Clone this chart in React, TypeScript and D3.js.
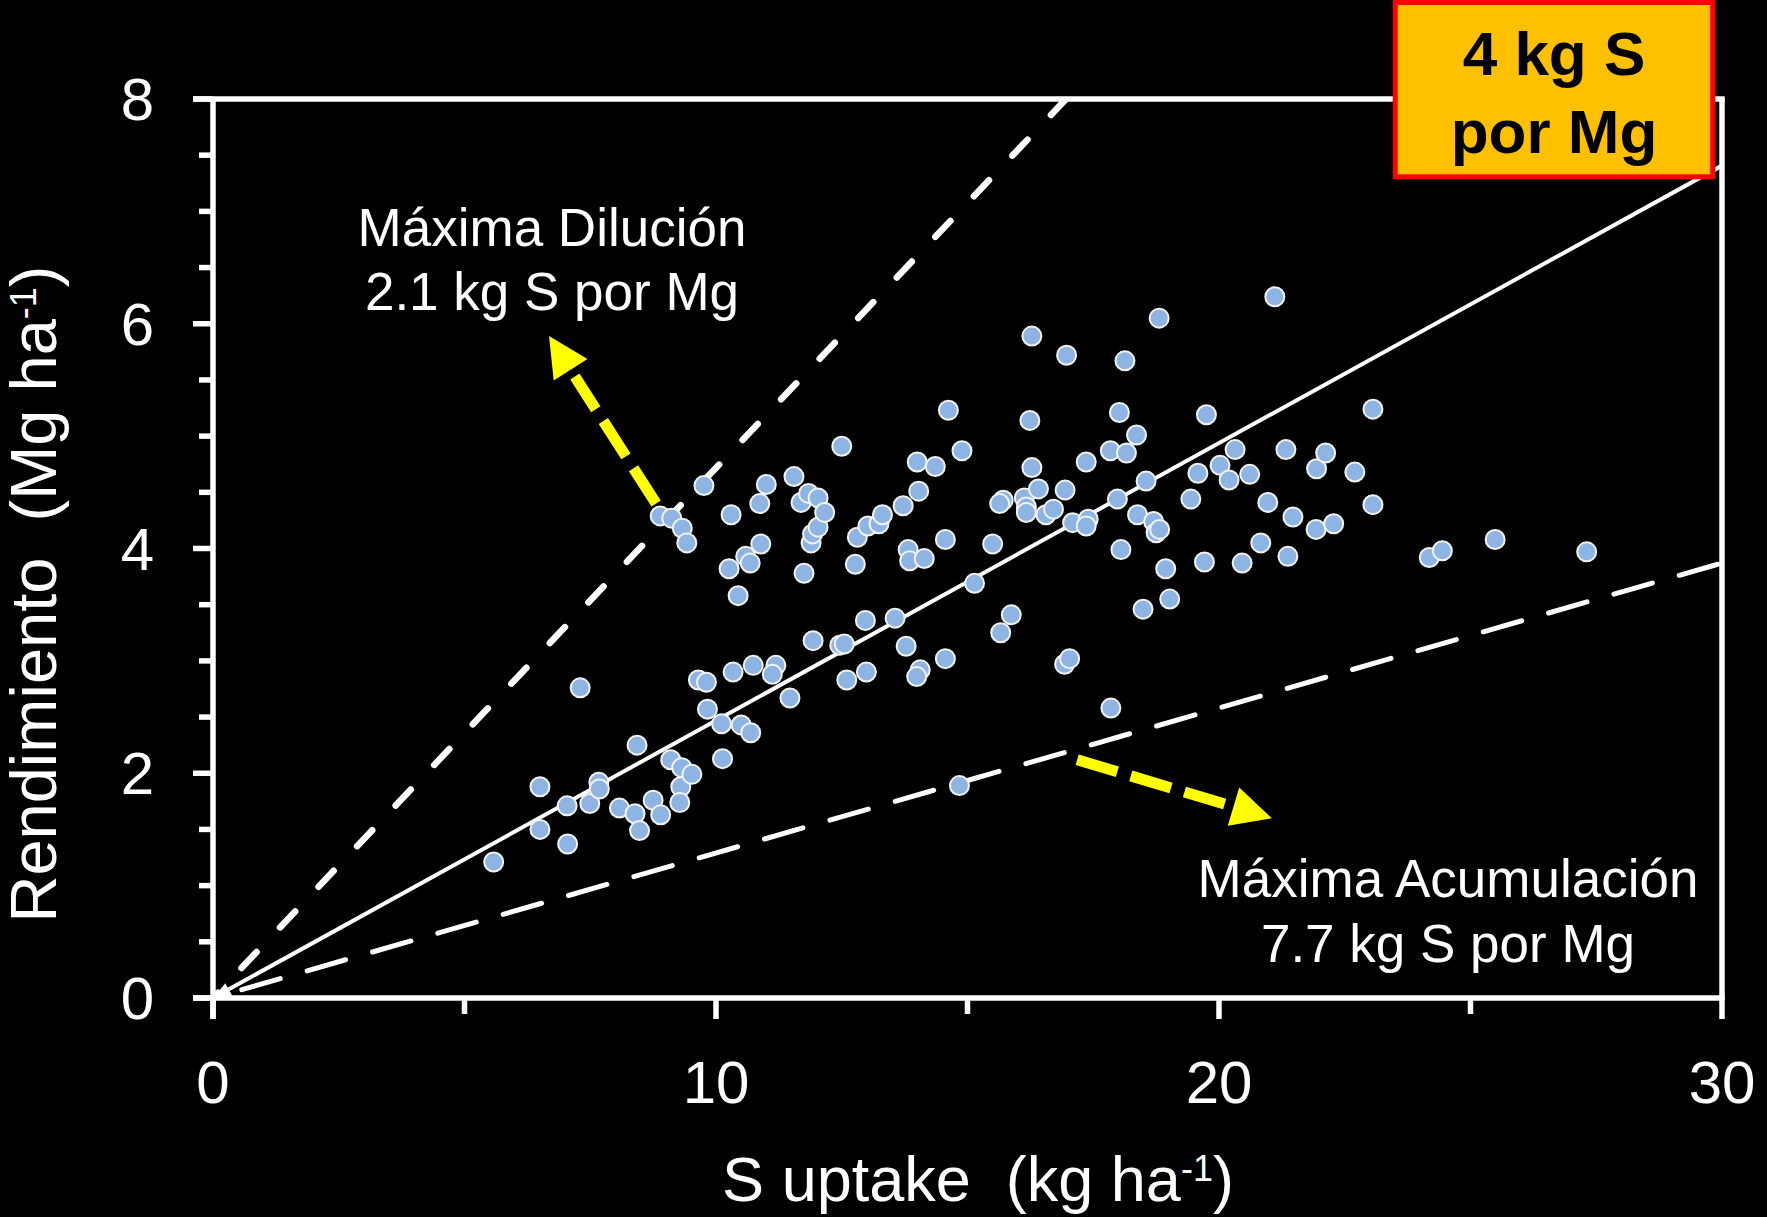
import React from 'react';
import * as d3 from 'd3';

const W = 1767;
const H = 1217;

// Data: S uptake (kg/ha) vs Rendimiento (Mg/ha)
const sUptake = [
  5.58, 6.5, 6.5, 7.04, 7.05, 7.3, 7.49, 7.67, 7.68, 8.08,
  8.43, 8.39, 8.48, 8.75, 8.9, 9.1, 9.32, 9.3, 9.28, 9.52,
  9.65, 9.81, 9.83, 10.11, 10.13, 10.34, 10.5, 10.69, 10.74, 11.19,
  11.12, 11.47, 8.89, 9.12, 9.33, 9.42, 9.76, 10.3, 10.26, 10.59,
  10.68, 10.44, 10.87, 11.0, 10.89, 11.55, 11.69, 11.84, 12.03, 11.75,
  11.89, 11.92, 12.03, 12.16, 11.93, 12.46, 12.55, 12.5, 12.6, 12.81,
  12.77, 12.97, 12.99, 13.02, 13.24, 13.31, 13.56, 13.72, 13.78, 13.82,
  13.85, 14.03, 14.0, 14.06, 13.99, 14.14, 14.36, 14.56, 14.56, 14.62,
  14.89, 14.84, 15.14, 15.5, 15.66, 15.71, 15.64, 15.87, 16.13, 16.17,
  16.17, 16.24, 16.28, 16.28, 16.41, 16.56, 16.71, 16.94, 16.97, 16.93,
  17.03, 17.09, 17.4, 17.36, 17.36, 17.84, 17.85, 17.98, 18.02, 18.05,
  18.13, 18.16, 18.36, 18.38, 18.49, 18.55, 18.7, 18.75, 18.82, 18.81,
  18.94, 19.02, 19.44, 19.58, 19.71, 19.75, 20.02, 20.2, 20.32, 20.46,
  20.61, 20.83, 20.97, 21.11, 21.33, 21.37, 21.47, 21.93, 21.94, 22.12,
  22.28, 22.7, 23.06, 23.06, 24.18, 24.44, 25.49, 27.31,
];
const rendimiento = [
  1.21, 1.88, 1.5, 1.71, 1.37, 2.76, 1.73, 1.92, 1.86, 1.69,
  2.25, 1.64, 1.49, 1.76, 1.63, 2.12, 2.05, 1.88, 1.74, 1.99,
  2.83, 2.81, 2.57, 2.44, 2.13, 2.9, 2.43, 2.36, 2.96, 2.96,
  2.88, 2.67, 4.29, 4.27, 4.18, 4.05, 4.56, 4.3, 3.82, 3.93,
  3.87, 3.58, 4.4, 4.57, 4.04, 4.64, 4.41, 4.49, 4.45, 3.78,
  4.05, 4.13, 4.19, 4.32, 3.18, 3.14, 3.15, 4.91, 2.83, 4.1,
  3.86, 3.36, 2.9, 4.2, 4.22, 4.3, 3.38, 4.38, 3.13, 3.99,
  3.89, 4.51, 4.77, 2.92, 2.86, 3.91, 4.73, 3.02, 4.08, 5.23,
  4.87, 1.89, 3.69, 4.04, 3.25, 4.43, 4.4, 3.41, 4.45, 4.37,
  4.32, 5.14, 5.89, 4.72, 4.53, 4.3, 4.35, 4.52, 5.72, 2.97,
  3.02, 4.23, 4.26, 4.2, 4.77, 4.87, 2.58, 4.44, 5.21, 3.99,
  5.67, 4.85, 5.01, 4.3, 3.46, 4.6, 4.24, 4.14, 4.17, 6.05,
  3.82, 3.55, 4.44, 4.67, 3.88, 5.19, 4.74, 4.61, 4.88, 3.87,
  4.66, 4.05, 4.41, 6.24, 4.88, 3.93, 4.28, 4.17, 4.71, 4.85,
  4.22, 4.68, 5.24, 4.39, 3.92, 3.98, 4.08, 3.97,
];

// Reference lines: kg S per Mg of grain (as drawn)
const ratioDilucion = 2.12;
const ratioMedio = 4.05;
const ratioAcumulacion = 7.75;

const xLabelTicks = [0, 10, 20, 30];
const xAllTicks = [0, 5, 10, 15, 20, 25, 30];
const yLabelTicks = [0, 2, 4, 6, 8];
const yAllTicks = [0, 0.5, 1, 1.5, 2, 2.5, 3, 3.5, 4, 4.5, 5, 5.5, 6, 6.5, 7, 7.5, 8];

// Yellow annotation arrows (data units)
const arrowDilucion = { from: [8.81, 4.4], to: [6.68, 5.89] };
const arrowAcumulacion = { from: [17.18, 2.12], to: [21.05, 1.6] };

const FONT = "'Liberation Sans', Arial, Helvetica, sans-serif";

export default function App() {
  const x = d3.scaleLinear().domain([0, 30]).range([213, 1722]);
  const y = d3.scaleLinear().domain([0, 8]).range([998, 99]);
  const line = d3
    .line<[number, number]>()
    .x((d) => x(d[0]))
    .y((d) => y(d[1]));

  const dilPts: [number, number][] = [
    [8 * ratioDilucion, 8],
    [0, 0],
  ];
  const medPts: [number, number][] = [
    [30, 30 / ratioMedio],
    [0, 0],
  ];
  const acuPts: [number, number][] = [
    [0, 0],
    [30, 30 / ratioAcumulacion],
  ];

  // arrowhead at origin for solid line
  const ox = x(0),
    oy = y(0);
  const mx = x(30),
    my = y(30 / ratioMedio);
  const ang = Math.atan2(my - oy, mx - ox);
  const hl = 18,
    hw = 7;
  const bx = ox + Math.cos(ang) * hl,
    by = oy + Math.sin(ang) * hl;
  const px = -Math.sin(ang) * hw,
    py = Math.cos(ang) * hw;
  const originHead = `M${ox},${oy} L${bx + px},${by + py} L${bx - px},${by - py} Z`;

  const yellowArrow = (a: { from: number[]; to: number[] }, key: string) => {
    const x1 = x(a.from[0]),
      y1 = y(a.from[1]);
    const x2 = x(a.to[0]),
      y2 = y(a.to[1]);
    const dx = x2 - x1,
      dy = y2 - y1;
    const len = Math.hypot(dx, dy);
    const ux = dx / len,
      uy = dy / len;
    const head = 40,
      halfW = 20;
    const baseX = x2 - ux * head,
      baseY = y2 - uy * head;
    const endX = baseX - ux * 8,
      endY = baseY - uy * 8;
    const nx = -uy,
      ny = ux;
    return (
      <g key={key}>
        <line
          x1={x1}
          y1={y1}
          x2={endX}
          y2={endY}
          stroke="#FFFF00"
          strokeWidth={11}
          strokeDasharray="42 14"
        />
        <path
          d={`M${x2},${y2} L${baseX + nx * halfW},${baseY + ny * halfW} L${baseX - nx * halfW},${baseY - ny * halfW} Z`}
          fill="#FFFF00"
        />
      </g>
    );
  };

  const axisW = 5.5;

  return (
    <svg
      width={W}
      height={H}
      style={{ position: 'absolute', left: 0, top: 0, display: 'block', background: '#000' }}
      fontFamily={FONT}
    >
      <rect x={0} y={0} width={W} height={H} fill="#000" />

      <defs>
        <clipPath id="plotClip">
          <rect x={x(0)} y={y(8)} width={x(30) - x(0)} height={y(0) - y(8)} />
        </clipPath>
      </defs>

      {/* reference lines */}
      <g clipPath="url(#plotClip)">
        <path
          d={line(dilPts) || ''}
          stroke="#fff"
          strokeWidth={6.5}
          fill="none"
          strokeDasharray="22 34"
          strokeLinecap="round"
        />
        <path
          d={line(acuPts) || ''}
          stroke="#fff"
          strokeWidth={5}
          fill="none"
          strokeDasharray="40 28"
          strokeDashoffset={-30}
          strokeLinecap="round"
        />
        <path d={line(medPts) || ''} stroke="#fff" strokeWidth={4} fill="none" />
      </g>
      <path d={originHead} fill="#fff" />

      {/* yellow arrows */}
      {yellowArrow(arrowDilucion, 'a1')}
      {yellowArrow(arrowAcumulacion, 'a2')}

      {/* axes frame */}
      <g stroke="#fff" strokeWidth={axisW}>
        <line x1={x(0)} y1={y(8)} x2={x(0)} y2={y(0) + 21} />
        <line x1={x(0) - 20} y1={y(0)} x2={x(30) + axisW / 2} y2={y(0)} />
        <line x1={x(0) - 20} y1={y(8)} x2={x(30) + axisW / 2} y2={y(8)} />
        <line x1={x(30)} y1={y(8)} x2={x(30)} y2={y(0)} />
        {yAllTicks.map((t) => (
          <line
            key={'yt' + t}
            x1={x(0) - (yLabelTicks.includes(t) ? 20 : 14)}
            x2={x(0)}
            y1={y(t)}
            y2={y(t)}
          />
        ))}
        {xAllTicks.map((t) => (
          <line
            key={'xt' + t}
            x1={x(t)}
            x2={x(t)}
            y1={y(0)}
            y2={y(0) + (xLabelTicks.includes(t) ? 21 : 16)}
          />
        ))}
      </g>

      {/* tick labels */}
      <g fill="#fff" fontSize={60}>
        {yLabelTicks.map((t) => (
          <text key={'yl' + t} x={154} y={y(t) + 21} textAnchor="end">
            {t}
          </text>
        ))}
        {xLabelTicks.map((t) => (
          <text key={'xl' + t} x={x(t)} y={1103} textAnchor="middle">
            {t}
          </text>
        ))}
      </g>

      {/* axis titles */}
      <text x={978} y={1201} fill="#fff" fontSize={63} textAnchor="middle" style={{ whiteSpace: 'pre' }}>
        {'S uptake  (kg ha'}
        <tspan fontSize={36} dy={-20}>
          -1
        </tspan>
        <tspan dy={20}>)</tspan>
      </text>
      <text
        transform="translate(56,594) rotate(-90)"
        fill="#fff"
        fontSize={65}
        textAnchor="middle"
        style={{ whiteSpace: 'pre' }}
      >
        {'Rendimiento  (Mg ha'}
        <tspan fontSize={36} dy={-20}>
          -1
        </tspan>
        <tspan dy={20}>)</tspan>
      </text>

      {/* data points */}
      <g>
        {sUptake.map((v, i) => (
          <circle
            key={'p' + i}
            cx={x(v)}
            cy={y(rendimiento[i])}
            r={9.5}
            fill="#8DB4E2"
            stroke="#F2F2F2"
            strokeWidth={2}
          />
        ))}
      </g>

      {/* annotations */}
      <g fill="#fff" fontSize={53} textAnchor="middle">
        <text x={552} y={246}>Máxima Dilución</text>
        <text x={552} y={310}>2.1 kg S por Mg</text>
        <text x={1448} y={897}>Máxima Acumulación</text>
        <text x={1448} y={962}>7.7 kg S por Mg</text>
      </g>

      {/* highlighted box */}
      <rect x={1395.2} y={2.5} width={317.5} height={174.3} fill="#FFC000" stroke="#FF0000" strokeWidth={5} />
      <g fill="#000" fontSize={62} fontWeight="bold" textAnchor="middle">
        <text x={1554} y={75}>4 kg S</text>
        <text x={1554} y={153}>por Mg</text>
      </g>
    </svg>
  );
}
